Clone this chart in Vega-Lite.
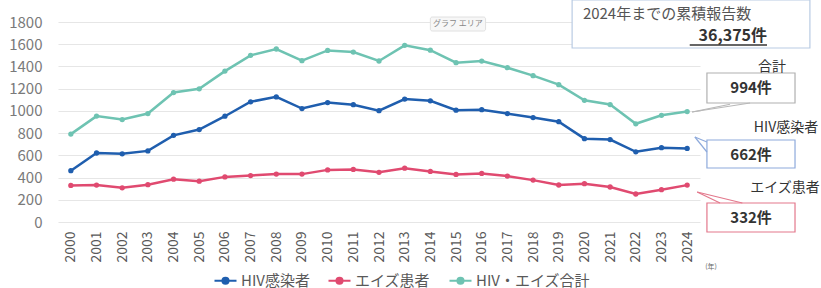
{
  "$schema": "https://vega.github.io/schema/vega-lite/v6.json",
  "width": 642,
  "height": 200,
  "autosize": {"type": "none"},
  "padding": {"left": 58, "top": 22, "right": 121, "bottom": 66},
  "background": "white",
  "config": {
    "font": "Noto Sans CJK JP",
    "view": {"stroke": null},
    "axis": {"labelOverlap": false, "labelBound": false}
  },
  "resolve": {"axis": {"x": "independent", "y": "independent"}},
  "layer": [
    {
      "data": {
        "values": [
          {"year": 2000, "HIV感染者": 462, "エイズ患者": 329, "HIV・エイズ合計": 791},
          {"year": 2001, "HIV感染者": 621, "エイズ患者": 332, "HIV・エイズ合計": 953},
          {"year": 2002, "HIV感染者": 614, "エイズ患者": 308, "HIV・エイズ合計": 922},
          {"year": 2003, "HIV感染者": 640, "エイズ患者": 336, "HIV・エイズ合計": 976},
          {"year": 2004, "HIV感染者": 780, "エイズ患者": 385, "HIV・エイズ合計": 1165},
          {"year": 2005, "HIV感染者": 832, "エイズ患者": 367, "HIV・エイズ合計": 1199},
          {"year": 2006, "HIV感染者": 952, "エイズ患者": 406, "HIV・エイズ合計": 1358},
          {"year": 2007, "HIV感染者": 1082, "エイズ患者": 418, "HIV・エイズ合計": 1500},
          {"year": 2008, "HIV感染者": 1126, "エイズ患者": 431, "HIV・エイズ合計": 1557},
          {"year": 2009, "HIV感染者": 1021, "エイズ患者": 431, "HIV・エイズ合計": 1452},
          {"year": 2010, "HIV感染者": 1075, "エイズ患者": 469, "HIV・エイズ合計": 1544},
          {"year": 2011, "HIV感染者": 1056, "エイズ患者": 473, "HIV・エイズ合計": 1529},
          {"year": 2012, "HIV感染者": 1002, "エイズ患者": 447, "HIV・エイズ合計": 1449},
          {"year": 2013, "HIV感染者": 1106, "エイズ患者": 484, "HIV・エイズ合計": 1590},
          {"year": 2014, "HIV感染者": 1091, "エイズ患者": 455, "HIV・エイズ合計": 1546},
          {"year": 2015, "HIV感染者": 1006, "エイズ患者": 428, "HIV・エイズ合計": 1434},
          {"year": 2016, "HIV感染者": 1011, "エイズ患者": 437, "HIV・エイズ合計": 1448},
          {"year": 2017, "HIV感染者": 976, "エイズ患者": 413, "HIV・エイズ合計": 1389},
          {"year": 2018, "HIV感染者": 940, "エイズ患者": 377, "HIV・エイズ合計": 1317},
          {"year": 2019, "HIV感染者": 903, "エイズ患者": 333, "HIV・エイズ合計": 1236},
          {"year": 2020, "HIV感染者": 750, "エイズ患者": 345, "HIV・エイズ合計": 1095},
          {"year": 2021, "HIV感染者": 742, "エイズ患者": 315, "HIV・エイズ合計": 1057},
          {"year": 2022, "HIV感染者": 632, "エイズ患者": 252, "HIV・エイズ合計": 884},
          {"year": 2023, "HIV感染者": 669, "エイズ患者": 291, "HIV・エイズ合計": 960},
          {"year": 2024, "HIV感染者": 662, "エイズ患者": 332, "HIV・エイズ合計": 994}
        ]
      },
      "transform": [
        {"fold": ["HIV感染者", "エイズ患者", "HIV・エイズ合計"], "as": ["series", "value"]}
      ],
      "mark": {"type": "line", "strokeWidth": 2.5, "point": {"filled": true, "size": 28}},
      "encoding": {
        "x": {
          "field": "year", "type": "quantitative",
          "scale": {"domain": [1999.5, 2024.5], "nice": false, "zero": false},
          "axis": {
            "title": null,
            "values": [2000,2001,2002,2003,2004,2005,2006,2007,2008,2009,2010,2011,2012,2013,2014,2015,2016,2017,2018,2019,2020,2021,2022,2023,2024],
            "tickCount": 30,
            "format": "d", "labelAngle": 270, "grid": false, "domain": false, "ticks": false,
            "labelFontSize": 14, "labelColor": "#595959", "labelPadding": 9, "labelFlush": false, "labelOverlap": false
          }
        },
        "y": {
          "field": "value", "type": "quantitative",
          "scale": {"domain": [0, 1800], "nice": false},
          "axis": {
            "title": null, "values": [0,200,400,600,800,1000,1200,1400,1600,1800],
            "tickCount": 20, "format": "d", "labelOverlap": false,
            "grid": true, "gridColor": "#e6e6e6", "gridWidth": 1.2, "domain": false, "ticks": false,
            "labelFontSize": 15, "labelColor": "#7a7a7a", "labelPadding": 16
          }
        },
        "color": {
          "field": "series", "type": "nominal",
          "scale": {"domain": ["HIV感染者", "エイズ患者", "HIV・エイズ合計"], "range": ["#1f5eae", "#e04a70", "#6ec3b2"]},
          "legend": {
            "title": null, "orient": "none", "direction": "horizontal",
            "legendX": 155, "legendY": 246,
            "symbolType": "M-1,0H1M0.27,0A0.27,0.27,0,1,1,-0.27,0A0.27,0.27,0,1,1,0.27,0Z",
            "symbolSize": 484, "symbolStrokeWidth": 2.2,
            "labelFontSize": 15, "labelColor": "#595959", "labelOffset": 3, "columnPadding": 14,
            "encode": {"symbols": {"update": {"fill": {"scale": "color", "field": "value"}, "stroke": {"scale": "color", "field": "value"}, "opacity": {"value": 1}}}}
          }
        }
      }
    },
    {
      "data": {"values": [{}]},
      "mark": {"type": "rect", "fill": "white", "stroke": "#b9cbe3", "strokeWidth": 1.2, "clip": false},
      "encoding": {"x": {"datum": 2019.52, "axis": null}, "x2": {"datum": 2028.78}, "y": {"datum": 1998, "axis": null}, "y2": {"datum": 1566}}
    },
    {
      "data": {"values": [{}]},
      "mark": {"type": "text", "text": "2024年までの累積報告数", "fontSize": 15, "color": "#555555", "align": "left", "baseline": "middle", "clip": false},
      "encoding": {"x": {"datum": 2019.94, "axis": null}, "y": {"datum": 1870, "axis": null}}
    },
    {
      "data": {"values": [{}]},
      "mark": {"type": "text", "text": "36,375件", "fontSize": 16, "fontWeight": "bold", "color": "#333333", "align": "right", "baseline": "middle", "clip": false},
      "encoding": {"x": {"datum": 2027.11, "axis": null}, "y": {"datum": 1676, "axis": null}}
    },
    {
      "data": {"values": [{}]},
      "mark": {"type": "rule", "stroke": "#333333", "strokeWidth": 1.5, "clip": false},
      "encoding": {"x": {"datum": 2024.1, "axis": null}, "x2": {"datum": 2027.11}, "y": {"datum": 1593, "axis": null}}
    },
    {
      "data": {"values": [{}]},
      "mark": {"type": "rect", "fill": "#f7f7f7", "stroke": "#e0e0e0", "cornerRadius": 2, "clip": false},
      "encoding": {"x": {"datum": 2014.0, "axis": null}, "x2": {"datum": 2016.15}, "y": {"datum": 1845, "axis": null}, "y2": {"datum": 1719}}
    },
    {
      "data": {"values": [{}]},
      "mark": {"type": "text", "text": "グラフ エリア", "fontSize": 8, "color": "#888888", "align": "center", "baseline": "middle", "clip": false},
      "encoding": {"x": {"datum": 2015.07, "axis": null}, "y": {"datum": 1782, "axis": null}}
    },
    {
      "data": {"values": [{}]},
      "mark": {"type": "rect", "fill": "white", "stroke": "#b0b0b0", "strokeWidth": 1.2, "clip": false},
      "encoding": {"x": {"datum": 2024.77, "axis": null}, "x2": {"datum": 2028.2}, "y": {"datum": 1341, "axis": null}, "y2": {"datum": 1071}}
    },
    {
      "data": {"values": [{}]},
      "mark": {"type": "rect", "fill": "white", "stroke": "#8eaadb", "strokeWidth": 1.2, "clip": false},
      "encoding": {"x": {"datum": 2024.77, "axis": null}, "x2": {"datum": 2028.2}, "y": {"datum": 738, "axis": null}, "y2": {"datum": 486}}
    },
    {
      "data": {"values": [{}]},
      "mark": {"type": "rect", "fill": "white", "stroke": "#e3788c", "strokeWidth": 1.2, "clip": false},
      "encoding": {"x": {"datum": 2024.77, "axis": null}, "x2": {"datum": 2028.2}, "y": {"datum": 171, "axis": null}, "y2": {"datum": -90}}
    },
    {
      "data": {"values": [{}]},
      "mark": {"type": "rule", "stroke": "#b8b8b8", "strokeWidth": 1.2, "clip": false},
      "encoding": {"x": {"datum": 2024.19, "axis": null}, "y": {"datum": 990, "axis": null}, "x2": {"datum": 2025.67}, "y2": {"datum": 1060}}
    },
    {
      "data": {"values": [{}]},
      "mark": {"type": "rule", "stroke": "#b8b8b8", "strokeWidth": 1.2, "clip": false},
      "encoding": {"x": {"datum": 2024.19, "axis": null}, "y": {"datum": 990, "axis": null}, "x2": {"datum": 2026.45}, "y2": {"datum": 1071}}
    },
    {
      "data": {"values": [{}]},
      "mark": {"type": "rule", "stroke": "#8eaadb", "strokeWidth": 1.2, "clip": false},
      "encoding": {"x": {"datum": 2024.3, "axis": null}, "y": {"datum": 765, "axis": null}, "x2": {"datum": 2024.77}, "y2": {"datum": 720}}
    },
    {
      "data": {"values": [{}]},
      "mark": {"type": "rule", "stroke": "#8eaadb", "strokeWidth": 1.2, "clip": false},
      "encoding": {"x": {"datum": 2024.3, "axis": null}, "y": {"datum": 765, "axis": null}, "x2": {"datum": 2024.77}, "y2": {"datum": 630}}
    },
    {
      "data": {"values": [{}]},
      "mark": {"type": "rule", "stroke": "#e3788c", "strokeWidth": 1.2, "clip": false},
      "encoding": {"x": {"datum": 2024.39, "axis": null}, "y": {"datum": 270, "axis": null}, "x2": {"datum": 2025.28}, "y2": {"datum": 171}}
    },
    {
      "data": {"values": [{}]},
      "mark": {"type": "rule", "stroke": "#e3788c", "strokeWidth": 1.2, "clip": false},
      "encoding": {"x": {"datum": 2024.39, "axis": null}, "y": {"datum": 270, "axis": null}, "x2": {"datum": 2026.15}, "y2": {"datum": 171}}
    },
    {
      "data": {"values": [{}]},
      "mark": {"type": "text", "text": "合計", "fontSize": 14, "color": "#333333", "align": "center", "baseline": "middle", "clip": false},
      "encoding": {"x": {"datum": 2027.3, "axis": null}, "y": {"datum": 1395, "axis": null}}
    },
    {
      "data": {"values": [{}]},
      "mark": {"type": "text", "text": "994件", "fontSize": 15, "fontWeight": "bold", "color": "#333333", "align": "center", "baseline": "middle", "clip": false},
      "encoding": {"x": {"datum": 2026.49, "axis": null}, "y": {"datum": 1206, "axis": null}}
    },
    {
      "data": {"values": [{}]},
      "mark": {"type": "text", "text": "HIV感染者", "fontSize": 14, "color": "#333333", "align": "center", "baseline": "middle", "clip": false},
      "encoding": {"x": {"datum": 2027.85, "axis": null}, "y": {"datum": 846, "axis": null}}
    },
    {
      "data": {"values": [{}]},
      "mark": {"type": "text", "text": "662件", "fontSize": 15, "fontWeight": "bold", "color": "#333333", "align": "center", "baseline": "middle", "clip": false},
      "encoding": {"x": {"datum": 2026.49, "axis": null}, "y": {"datum": 603, "axis": null}}
    },
    {
      "data": {"values": [{}]},
      "mark": {"type": "text", "text": "エイズ患者", "fontSize": 14, "color": "#333333", "align": "center", "baseline": "middle", "clip": false},
      "encoding": {"x": {"datum": 2027.81, "axis": null}, "y": {"datum": 306, "axis": null}}
    },
    {
      "data": {"values": [{}]},
      "mark": {"type": "text", "text": "332件", "fontSize": 15, "fontWeight": "bold", "color": "#333333", "align": "center", "baseline": "middle", "clip": false},
      "encoding": {"x": {"datum": 2026.49, "axis": null}, "y": {"datum": 36, "axis": null}}
    },
    {
      "data": {"values": [{}]},
      "mark": {"type": "text", "text": "(年)", "fontSize": 7, "color": "#666666", "align": "center", "baseline": "middle", "clip": false},
      "encoding": {"x": {"datum": 2024.93, "axis": null}, "y": {"datum": -405, "axis": null}}
    }
  ]
}
